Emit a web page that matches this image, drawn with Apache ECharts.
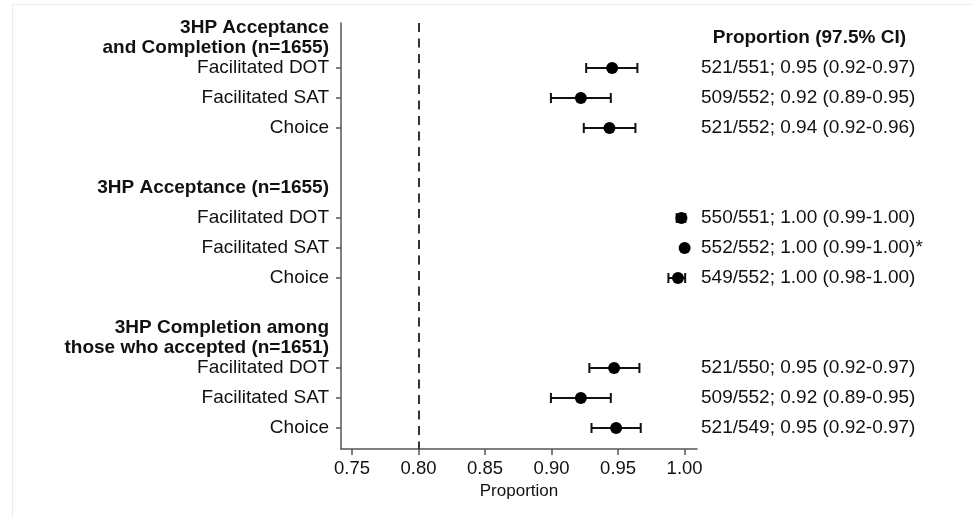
<!DOCTYPE html>
<html>
<head>
<meta charset="utf-8">
<script src="https://cdn.jsdelivr.net/npm/echarts@6/dist/echarts.min.js"></script>
<style>
html,body{margin:0;padding:0;background:#fff;}
#chart{width:972px;height:517px;}
</style>
</head>
<body>
<div id="chart"></div>
<script>
// ---- data ----
const rowLabels = [
  '3HP Acceptance\nand Completion (n=1655)', 'Facilitated DOT', 'Facilitated SAT', 'Choice', '',
  '3HP Acceptance (n=1655)', 'Facilitated DOT', 'Facilitated SAT', 'Choice', '',
  '3HP Completion among\nthose who accepted (n=1651)', 'Facilitated DOT', 'Facilitated SAT', 'Choice'
];
const headerRows = [0, 5, 10];
const estimates = [null, 0.9455, 0.922, 0.9435, null, null, 0.9976, 1.0, 0.995, null, null, 0.947, 0.922, 0.9485];
const ciLow  = [null, 0.926, 0.8995, 0.9242, null, null, 0.994, null, 0.9878, null, null, 0.9284, 0.8995, 0.930];
const ciHigh = [null, 0.9645, 0.9445, 0.963, null, null, 1.0005, null, 1.0004, null, null, 0.966, 0.9445, 0.967];
const resultHeader = 'Proportion (97.5% CI)';
const resultText = [null,
  '521/551; 0.95 (0.92-0.97)', '509/552; 0.92 (0.89-0.95)', '521/552; 0.94 (0.92-0.96)', null,
  null, '550/551; 1.00 (0.99-1.00)', '552/552; 1.00 (0.99-1.00)*', '549/552; 1.00 (0.98-1.00)', null,
  null, '521/550; 0.95 (0.92-0.97)', '509/552; 0.92 (0.89-0.95)', '521/549; 0.95 (0.92-0.97)'
];
const xTicks = [0.75, 0.80, 0.85, 0.90, 0.95, 1.00];
const refValue = 0.80;
const xAxisName = 'Proportion';

// ---- derived ----
const labelRows = rowLabels.map((s, i) => s ? i : null).filter(v => v !== null);
const tickRows = labelRows.filter(i => headerRows.indexOf(i) < 0);
const pointData = [], ciData = [], textData = [];
estimates.forEach((v, i) => { if (v != null) pointData.push([v, i]); });
ciLow.forEach((v, i) => { if (v != null) ciData.push([i, v, ciHigh[i]]); });
resultText.forEach((t, i) => { if (t) textData.push({ value: [0, i], txt: t }); });

const FONT = 'Liberation Sans, Arial, Helvetica, sans-serif';
const AX = '#555';
const FS = 19;
const yRange = { min: -0.5, max: 13.7 };

function textItem(t, i) {
  return { value: [0, i], txt: t };
}

const chart = echarts.init(document.getElementById('chart'));
chart.setOption({
  animation: false,
  backgroundColor: '#fff',
  graphic: [{
    type: 'rect', silent: true, z: -10,
    shape: { x: 12.5, y: 4.5, width: 1000, height: 1000 },
    style: { fill: null, stroke: '#ececec', lineWidth: 1 }
  }],
  grid: [
    { left: 341, right: 275, top: 23, bottom: 68 },
    { left: 701, right: 0, top: 23, bottom: 68 }
  ],
  xAxis: [{
    type: 'value', gridIndex: 0, min: 0.7417, max: 1.0093,
    splitLine: { show: false },
    axisLine: { show: true, onZero: false, lineStyle: { color: AX, width: 1.5 } },
    axisTick: { show: true, length: 6, customValues: xTicks, lineStyle: { color: AX, width: 1.5 } },
    axisLabel: { customValues: xTicks, formatter: v => v.toFixed(2), color: '#111', fontSize: 18.5, fontFamily: FONT, margin: 10 },
    name: xAxisName, nameLocation: 'middle', nameGap: 32,
    nameTextStyle: { color: '#111', fontSize: 17, fontFamily: FONT }
  }, {
    type: 'value', gridIndex: 1, min: 0, max: 1, show: false
  }],
  yAxis: [{
    type: 'value', gridIndex: 0, inverse: true, min: yRange.min, max: yRange.max,
    splitLine: { show: false },
    axisLine: { show: true, onZero: false, lineStyle: { color: AX, width: 1.5 } },
    axisTick: { show: true, length: 5, customValues: tickRows, lineStyle: { color: AX, width: 1.5 } },
    axisLabel: {
      customValues: labelRows, margin: 12, color: '#111', fontSize: FS, fontFamily: FONT,
      formatter: v => {
        const s = rowLabels[v] || '';
        if (headerRows.indexOf(v) >= 0) return s.split('\n').map(l => '{h|' + l + '}').join('\n');
        return s;
      },
      rich: { h: { fontWeight: 'bold', fontSize: FS, fontFamily: FONT, color: '#111', lineHeight: 20, align: 'right' } }
    }
  }, {
    type: 'value', gridIndex: 1, inverse: true, min: yRange.min, max: yRange.max, show: false
  }],
  series: [{
    type: 'custom', xAxisIndex: 0, yAxisIndex: 0,
    encode: { x: [1, 2], y: 0 },
    data: ciData,
    renderItem: (params, api) => {
      const r = api.value(0);
      const a = api.coord([api.value(1), r]);
      const b = api.coord([api.value(2), r]);
      const st = { stroke: '#111', lineWidth: 2 };
      return { type: 'group', children: [
        { type: 'line', shape: { x1: a[0], y1: a[1], x2: b[0], y2: b[1] }, style: st },
        { type: 'line', shape: { x1: a[0], y1: a[1] - 5, x2: a[0], y2: a[1] + 5 }, style: st },
        { type: 'line', shape: { x1: b[0], y1: b[1] - 5, x2: b[0], y2: b[1] + 5 }, style: st }
      ]};
    }
  }, {
    type: 'scatter', xAxisIndex: 0, yAxisIndex: 0,
    data: pointData, symbol: 'circle', symbolSize: 12,
    itemStyle: { color: '#000', opacity: 1 }, z: 5,
    markLine: {
      silent: true, symbol: 'none', label: { show: false },
      lineStyle: { color: '#333', width: 2, type: [9, 6.5], opacity: 1 },
      data: [{ xAxis: refValue }]
    }
  }, {
    type: 'custom', xAxisIndex: 1, yAxisIndex: 1,
    encode: { x: 0, y: 1 },
    data: textData,
    renderItem: (params, api) => {
      const p = api.coord([api.value(0), api.value(1)]);
      const t = textData[params.dataIndex].txt;
      return { type: 'text', x: p[0], y: p[1],
        style: { text: t, fill: '#111', font: FS + 'px ' + FONT, align: 'left', verticalAlign: 'middle' } };
    }
  }, {
    type: 'custom', xAxisIndex: 1, yAxisIndex: 1,
    encode: { x: 0, y: 1 },
    data: [[0.4, 0]],
    renderItem: (params, api) => {
      const p = api.coord([api.value(0), api.value(1)]);
      return { type: 'text', x: p[0], y: p[1],
        style: { text: resultHeader, fill: '#111', font: 'bold ' + FS + 'px ' + FONT, align: 'center', verticalAlign: 'middle' } };
    }
  }]
});
</script>
</body>
</html>
